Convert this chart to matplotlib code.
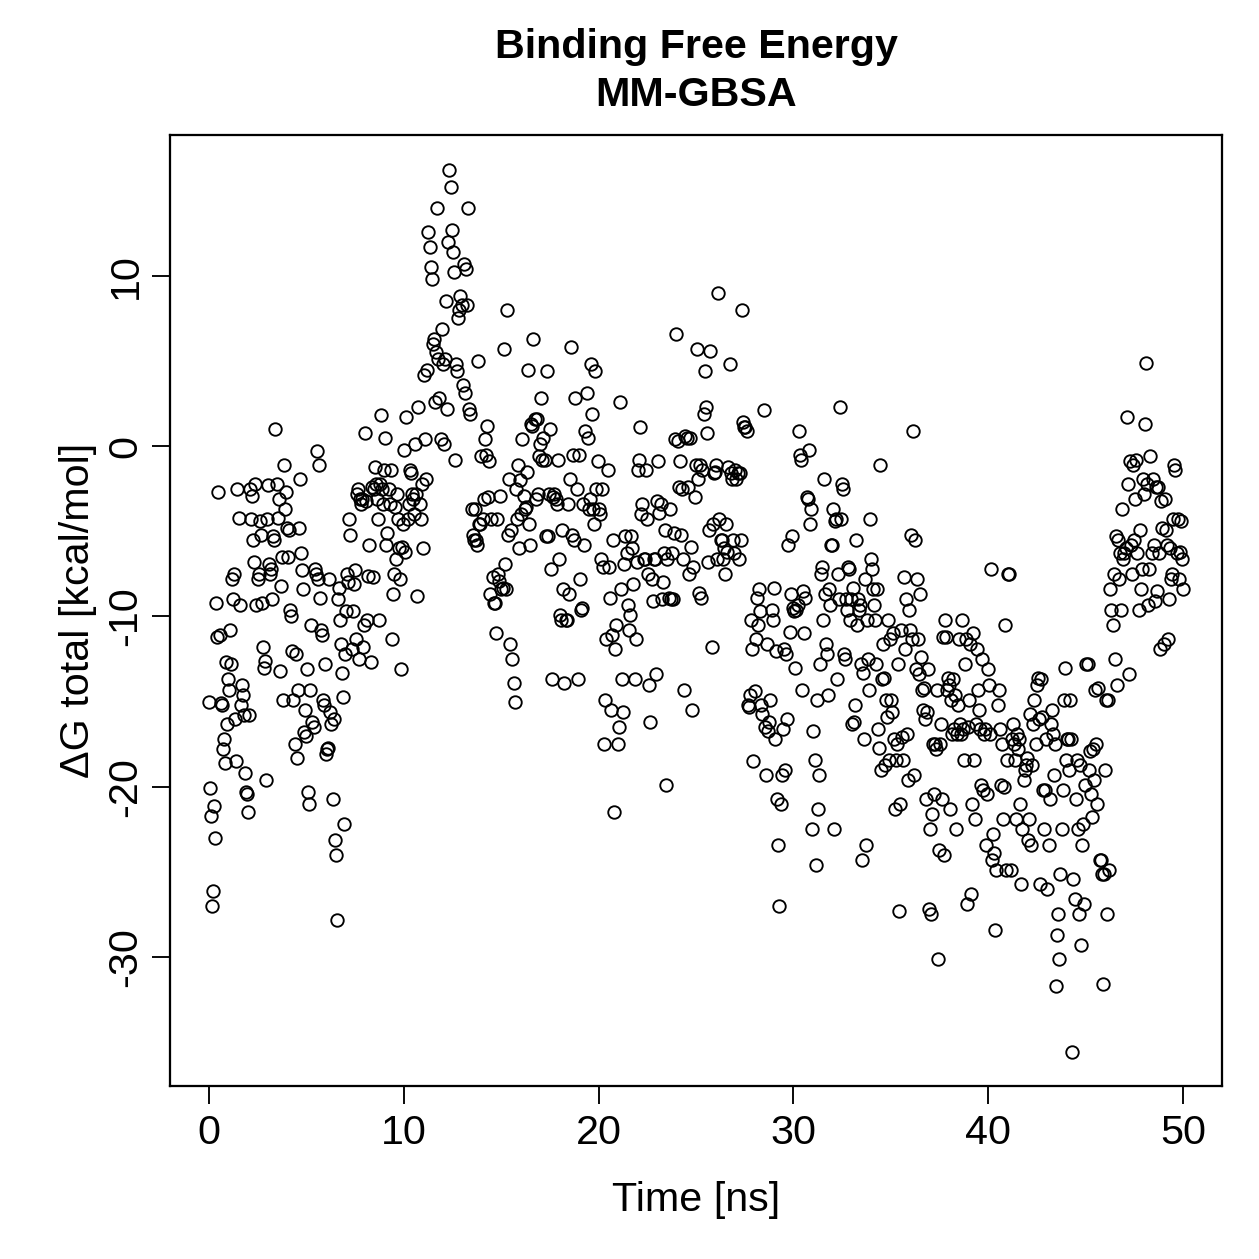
import matplotlib
matplotlib.use("Agg")
import matplotlib.pyplot as plt
import numpy as np

# Delta G total [kcal/mol], in time order, by block
dG_a = [
    -15.0, -20.1, -21.7, -27.0, -26.1, -21.1, -23.0, -9.2, -11.2, -2.7, -11.1, -15.1, -15.2, -17.8, -17.2, -18.6, -12.7, -16.3, -13.7,
    -14.3, -10.8, -12.8, -7.8, -9.0, -7.5, -16.0, -18.5, -2.5, -4.2, -9.3, -15.2, -14.0, -14.6, -15.8, -19.2, -20.3, -20.4,
    -21.5, -15.8, -2.5, -4.3, -2.9, -5.5, -6.8, -2.2, -9.3, -7.8, -7.5, -4.4, -5.2, -9.2, -11.8, -13.0, -12.6, -19.6, -4.3, -2.3,
    -6.9, -7.5, -7.2, -9.0, -5.3, -5.5, 1.0, -2.2, -4.2, -3.1, -13.2, -8.2, -6.5, -14.9, -1.1, -3.7, -2.7, -4.8, -6.5,
    -4.9, -9.6, -10.0, -12.0, -14.9, -17.5, -12.2, -18.3, -14.3, -4.8, -1.9, -6.3, -7.3, -8.4, -16.8, -15.5, -17.0, -13.1,
    -20.3, -21.0, -14.3, -10.5, -16.2, -16.5, -7.2, -7.5, -0.3, -7.8, -1.1, -8.9, -10.8, -11.1, -14.9, -15.2, -12.8, -18.1, -17.8, -17.7, -7.8,
    -15.6, -16.3, -20.7, -16.0, -23.1, -24.0, -27.8, -9.0, -8.3, -10.2, -11.6, -13.3, -14.7, -22.2, -12.2, -9.7, -7.5, -8.0, -4.3, -5.2,
    -11.9, -9.7, -8.1, -7.3, -11.3, -2.8, -2.5, -12.5, -3.1, -3.4, -3.1, -11.8, -10.5, 0.8, -3.2, -10.2, -7.6, -5.8,
    -12.7, -2.4, -7.7, -2.5, -1.2, -2.2, -3.1, -4.3, -10.2, -2.2, 1.8, -2.5, -3.4, -1.4, 0.5, -5.8, -5.1, -2.5, -3.4,
    -1.4, -11.3, -8.7, -7.5, -3.6, -6.6, -2.8, -4.3, -6.0, -7.8, -13.1, -5.9, -4.6, -0.2, -6.2, 1.7, -4.3, -3.4,
]
dG_b = [
    -1.4, -1.6, -2.8, -3.1, -4.0, 0.1, -2.8, -8.8, 2.3, -3.4, -4.3, -2.2, -6.0, 4.2, 0.4, -1.9, 4.5,
    12.6, 11.7, 10.5, 9.8, 6.0, 6.3, 2.6, 5.5, 14.0, 5.1, 2.8, 0.4, 6.9, 4.8, 0.1, 5.1, 8.5, 2.2,
    12.0, 16.2, 15.2, 12.7, 11.4, 10.2, -0.8, 4.8, 4.4, 7.5, 8.0, 8.8, 8.3, 3.6, 10.7, 3.1, 10.4, 8.3, 14.0, 2.2,
    1.9, -3.7, -5.2, -5.5, -3.7, -5.5, -5.8, 5.0, -4.6, -4.6, -0.6, -4.3, -3.1, 0.4, -0.5, 1.2, -3.0, -0.9, -8.7, -4.3,
    -7.7, -9.2, -9.2, -11.0, -4.3, -7.5, -7.9, -2.9, -8.4, -8.3, 5.7, -6.9, -8.4, 8.0, -5.2, -1.9,
    -11.6, -4.9, -12.5, -13.9, -15.0, -2.5, -4.3, -1.1, -6.0, -2.0, -4.0, 0.4, -2.9, -3.7, -3.6, -1.5, 4.5, -4.6, -5.8,
    1.3, 1.2, 6.3, 1.6, -3.1, 1.6, -2.8, -0.6, 0.1, 2.8, -0.8, 0.5, -0.8, -5.3, 4.4, -5.3, -2.8, 1.0, -7.2, -13.7,
    -3.0, -2.8, -3.1, -3.4, -0.8, -6.6, -9.9, -10.2, -4.9, -8.4, -13.9, -10.2, -10.2, -3.4, -8.7, -1.9, 5.8, -5.2, -0.5,
    -5.5, 2.8, -2.5, -13.7, -0.5, -7.8, -9.6, -9.5, -3.4, -5.8, 0.9, 3.1, 0.5, -3.7, -3.1, 4.8, 1.9, -3.7,
    -4.6, 4.4, -2.5, -0.9, -3.7, -4.0, -6.6, -2.5, -7.1, -17.5, -14.9, -11.3, -1.4, -7.1, -8.9, -15.5, -11.1, -5.5,
]
dG_c = [
    -21.5, -11.9, -10.5, -17.5, -16.5, 2.6, -8.4, -13.7, -15.6, -6.9, -5.3, -6.3, -9.3, -10.8, -9.9, -5.3, -6.0, -8.1,
    -13.7, -11.3, -6.8, -1.4, -0.8, 1.1, -4.0, -3.4, -6.6, -6.6, -1.4, -4.3, -7.5, -14.0, -16.2, -7.8, -9.1, -6.6,
    -6.6, -13.4, -3.2, -0.9, -3.9, -3.4, -9.0, -8.0, -6.3, -4.9, -19.9, -6.6, -8.9, -3.7, -9.0, -6.3, -9.0, -5.1, 0.4,
    6.6, 0.3, -2.4, -0.9, -5.2, -2.5, -6.6, -14.3, 0.6, 0.5, -2.4, -7.5, 0.5, -5.9, -15.5, -7.1, -3.0, -1.1, 5.7,
    -1.9, -8.6, -1.1, -8.9, -1.4, 1.9, 4.4, 2.3, 0.8, -6.8, -4.9, 5.6, -11.8, -4.6, -1.6, -1.5, -1.1, -6.6,
    9.0, -4.3, -5.5, -5.5, -6.6, -6.0, -7.5, -4.6, -6.2, -1.2, 4.8, -1.6, -1.9, -5.5, -6.3, -1.4, -1.9, -1.6,
    -6.6, -1.6, -5.5, 8.0, 1.4, 1.1, 1.1, 0.9, -15.2, -15.3, -14.6, -10.2, -11.9, -18.5, -14.4, -11.3, -8.9, -10.5,
    -8.4, -9.7, -15.2, -15.7, 2.1, -16.5, -19.3, -11.6, -16.7, -16.2, -14.9, -9.6, -10.2, -8.3, -17.2, -12.0, -20.7,
    -23.4, -27.0, -21.0, -19.3, -16.6, -11.9, -19.0, -12.2, -16.0, -5.8, -10.9, -8.7, -5.3, -9.5, -9.7, -13.0, -9.6,
    -9.3, 0.9, -0.5, -0.8, -14.3, -8.5, -11.0, -8.9, -3.0, -3.1, -0.2, -4.6, -3.7, -22.5, -16.7, -18.4, -24.6,
]
dG_d = [
    -14.9, -21.3, -19.3, -12.8, -7.5, -7.1, -10.2, -1.9, -8.7, -11.6, -12.2, -14.6, -8.4, -9.3, -5.8, -5.8, -3.7, -22.5,
    -4.4, -4.3, -13.7, -7.5, -9.0, 2.3, -4.3, -2.2, -2.5, -12.2, -12.5, -9.0, -9.6, -7.1, -7.2, -10.2, -9.0, -16.3,
    -8.3, -16.2, -15.2, -5.5, -10.5, -9.0, -9.6, -9.3, -12.8, -24.3, -13.3, -17.2, -7.8, -23.4, -10.2, -12.5, -14.3,
    -4.3, -6.6, -7.2, -8.4, -9.3, -10.2, -12.8, -8.4, -16.6, -17.7, -1.1, -19.0, -13.7, -11.6, -13.6, -18.7,
    -14.9, -15.9, -10.2, -18.4, -11.3, -14.9, -15.6, -11.0, -17.2, -21.3, -18.4, -17.5, -12.8, -27.3, -21.0, -10.8, -17.1,
    -18.4, -7.7, -11.9, -9.0, -16.9, -19.6, -9.6, -10.8, -5.2, -11.3, 0.9, -19.3, -5.5, -13.1, -7.8, -11.3, -13.4, -8.7,
    -12.4, -14.3, -15.5, -14.2, -16.0, -20.7, -15.6, -13.1, -27.2, -22.5, -27.5, -21.6, -17.5, -20.4, -17.5, -17.8, -14.3, -30.1,
    -23.7, -17.5, -16.3, -20.7, -11.2, -24.0, -10.2, -11.2, -14.3, -13.6, -14.0, -21.3, -14.9, -16.9, -13.7, -16.6, -14.6, -22.5,
    -16.9, -15.2, -11.3, -16.3, -16.9, -10.2, -16.6, -18.4, -12.8, -11.3, -26.9, -16.5, -14.9, -11.6, -26.3, -21.0, -11.0, -18.4,
    -21.9, -16.3, -11.9, -14.3, -15.5, -16.6, -19.9, -12.5, -20.2, -16.9, -16.6, -23.4, -20.4, -13.1, -14.0, -16.9, -7.2,
]
dG_e = [
    -24.3, -22.8, -23.9, -28.4, -24.9, -15.2, -14.3, -16.6, -19.9, -17.5, -21.9, -20.0, -10.5, -24.9, -18.4, -7.5,
    -7.5, -24.9, -17.2, -16.3, -17.5, -18.4, -21.9, -16.9, -17.8, -17.2, -21.0, -25.7, -22.5, -19.6, -19.0, -18.7, -18.3, -23.1,
    -21.9, -15.7, -23.4, -18.7, -16.3, -14.9, -17.5, -14.0, -13.6, -16.0, -25.7, -13.7, -15.9, -20.2, -22.5, -20.2, -17.2,
    -26.0, -23.4, -20.7, -16.3, -15.5, -16.9, -19.3, -17.5, -31.7, -28.7, -27.5, -30.1, -25.1, -22.5, -20.2, -14.9, -13.0, -18.4,
    -17.2, -17.2, -19.0, -14.9, -17.2, -35.6, -25.4, -26.6, -20.7, -18.4, -22.5, -27.5, -18.7, -29.3, -23.4, -22.2, -26.9, -19.9,
    -12.8, -12.8, -19.0, -17.9, -20.4, -21.8, -17.8, -19.6, -14.3, -17.5, -21.0, -14.2, -24.3, -24.3, -25.1, -31.6, -25.1, -19.0, -14.9,
    -27.5, -14.9, -24.9, -8.4, -9.6, -10.5, -7.5, -12.5, -5.3, -14.0, -5.5, -7.8, -6.3, -9.6, -3.7, -6.6,
    -6.3, -6.0, 1.7, -2.2, -13.4, -0.9, -5.8, -7.5, -1.1, -5.5, -3.1, -0.8, -6.3, -9.6, -4.9, -8.4, -7.2, -1.9,
    -2.8, 1.3, 4.9, -2.2, -9.3, -7.2, -0.6, -6.3, -1.9, -5.8, -9.1, -2.4, -8.5, -2.4, -6.3, -11.9, -3.2, -4.8, -11.6,
    -3.1, -4.9, -5.8, -11.3, -9.0, -6.0, -7.8, -7.5, -4.3, -1.1, -1.4, -6.3, -4.3, -7.8, -6.2, -4.4, -6.6, -8.4,
]
# time span [ns] covered by each block
block_spans = [(0.0, 10.3), (10.3, 20.8), (20.8, 31.2), (31.2, 40.2), (40.2, 50.0)]
blocks = [dG_a, dG_b, dG_c, dG_d, dG_e]

x_ticks = [0, 10, 20, 30, 40, 50]
y_ticks = [-30, -20, -10, 0, 10]

plt.rcParams["font.family"] = ["Liberation Sans", "DejaVu Sans"]
plt.rcParams["axes.unicode_minus"] = False

W = 1259
FS = 16.5
fig = plt.figure(figsize=(W / 180, W / 180), dpi=180)
ax = fig.add_axes([170 / W, 1 - 1086 / W, (1222 - 170) / W, (1086 - 135) / W])

for (t0, t1), vals in zip(block_spans, blocks):
    n = len(vals)
    t = np.linspace(t0, t1, n, endpoint=(t1 == 50.0))
    ax.plot(t, vals, linestyle="none", marker="o", markersize=5.0,
            markerfacecolor="none", markeredgecolor="black", markeredgewidth=0.75)

ax.set_xlim(-2, 52)
ax.set_ylim(-37.57, 18.27)
ax.set_xticks(x_ticks)
ax.set_xticklabels([str(v) for v in x_ticks])
ax.set_yticks(y_ticks)
ax.set_yticklabels([str(v) for v in y_ticks], rotation=90, va="center")
ax.tick_params(direction="out", length=7.2, width=0.75, labelsize=FS, color="black")
ax.tick_params(axis="x", pad=4)
ax.tick_params(axis="y", pad=3)
for s in ax.spines.values():
    s.set_linewidth(0.9)
    s.set_color("black")

fig.text(696 / W, 1 - 1200 / W, "Time [ns]", ha="center", va="center", fontsize=FS)
fig.text(78 / W, 1 - 610 / W, "\u0394G total [kcal/mol]", ha="center", va="center",
         rotation=90, fontsize=FS)
fig.text(696 / W, 1 - 47 / W, "Binding Free Energy", ha="center", va="center",
         fontsize=FS, fontweight="bold")
fig.text(696 / W, 1 - 95 / W, "MM-GBSA", ha="center", va="center",
         fontsize=FS, fontweight="bold")

fig.savefig("out.png", dpi=180, facecolor="white")
